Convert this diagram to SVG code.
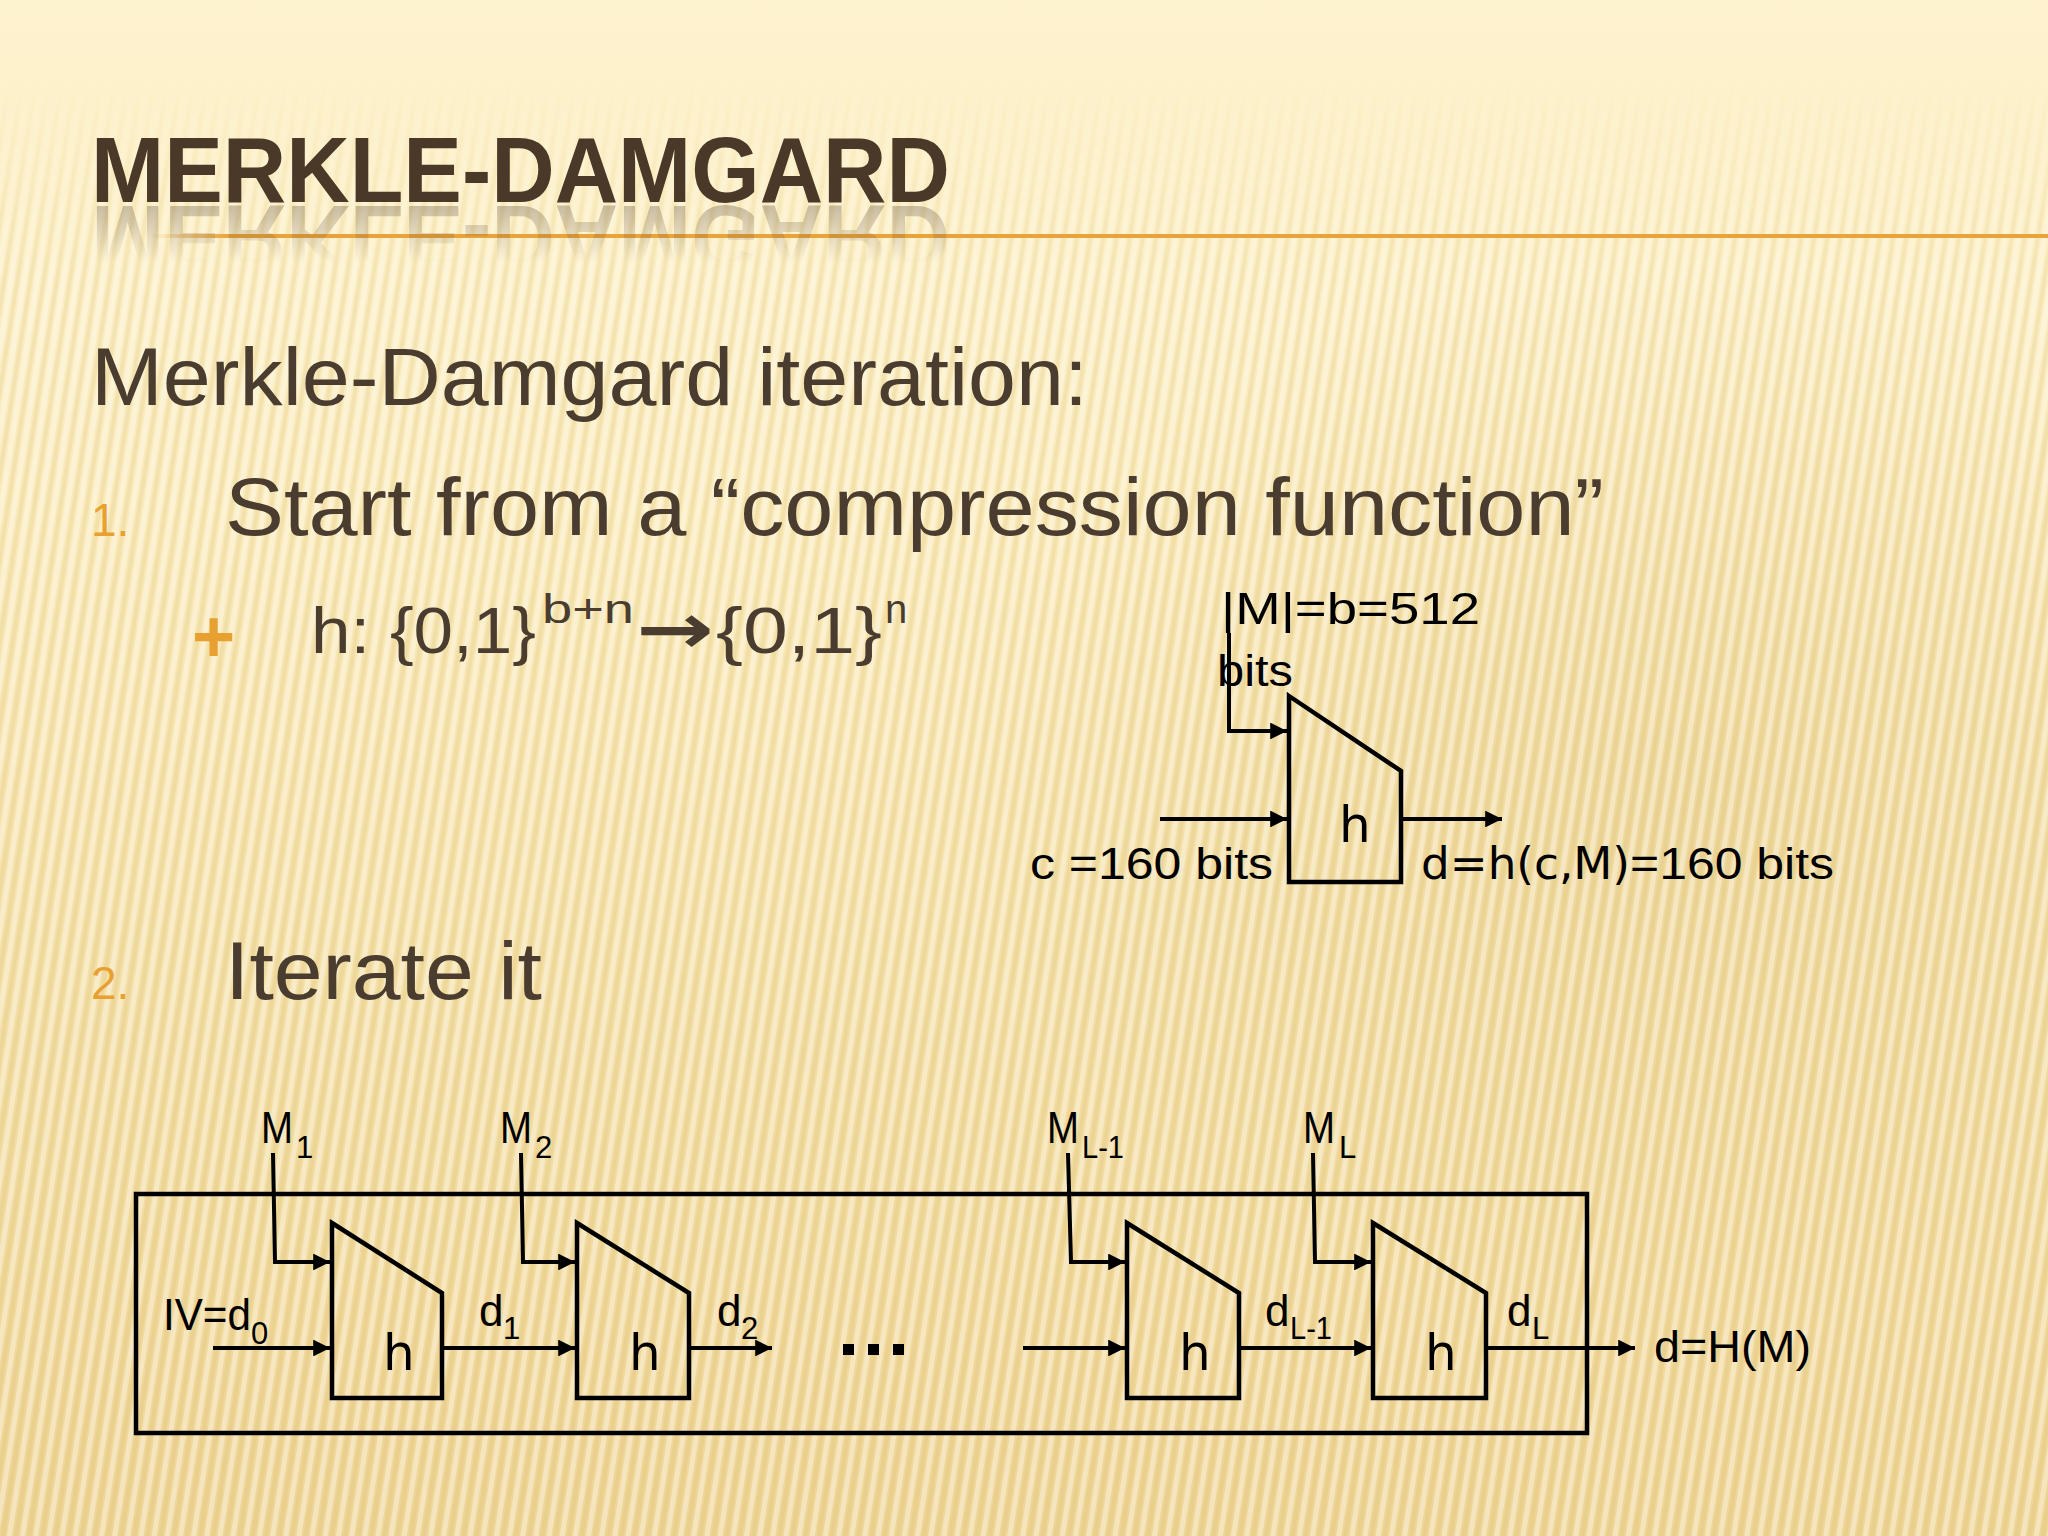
<svg xmlns="http://www.w3.org/2000/svg" xmlns:xlink="http://www.w3.org/1999/xlink" width="2048" height="1536" viewBox="0 0 2048 1536">
<defs>
  <linearGradient id="bg" x1="0" y1="0" x2="0" y2="1">
    <stop offset="0" stop-color="#FEF3CF"/>
    <stop offset="0.35" stop-color="#FAEAB9"/>
    <stop offset="0.7" stop-color="#F3DDA2"/>
    <stop offset="1" stop-color="#EFD595"/>
  </linearGradient>
  <radialGradient id="glow" cx="0.82" cy="0.52" r="0.35">
    <stop offset="0" stop-color="#E9CF8E" stop-opacity="0.6"/>
    <stop offset="1" stop-color="#E9CF8E" stop-opacity="0"/>
  </radialGradient>
  <pattern id="stripes" width="13" height="60" patternUnits="userSpaceOnUse" patternTransform="rotate(9)">
    <rect x="0" y="0" width="5" height="60" fill="#FFFFFF" opacity="0.38"/>
    <rect x="7" y="0" width="4" height="60" fill="#C9A85A" opacity="0.14"/>
  </pattern>
  <linearGradient id="fadeG" x1="0" y1="0" x2="0" y2="1">
    <stop offset="0" stop-color="#000"/>
    <stop offset="0.05" stop-color="#000"/>
    <stop offset="0.18" stop-color="#fff"/>
    <stop offset="1" stop-color="#fff"/>
  </linearGradient>
  <mask id="stripeMask" maskUnits="userSpaceOnUse" x="0" y="0" width="2048" height="1536">
    <rect width="2048" height="1536" fill="url(#fadeG)"/>
  </mask>
  <linearGradient id="reflG" gradientUnits="userSpaceOnUse" x1="0" y1="204" x2="0" y2="262">
    <stop offset="0" stop-color="#fff" stop-opacity="0.5"/>
    <stop offset="1" stop-color="#fff" stop-opacity="0"/>
  </linearGradient>
  <mask id="reflMask" maskUnits="userSpaceOnUse" x="0" y="200" width="2048" height="80">
    <rect x="0" y="200" width="2048" height="80" fill="url(#reflG)"/>
  </mask>
  <linearGradient id="ruleG" gradientUnits="userSpaceOnUse" x1="150" y1="0" x2="230" y2="0">
    <stop offset="0" stop-color="#E8A33A" stop-opacity="0"/>
    <stop offset="1" stop-color="#E8A33A" stop-opacity="1"/>
  </linearGradient>
  <marker id="arr" viewBox="0 0 10 10" refX="10" refY="5" markerWidth="4.6" markerHeight="4.2" orient="auto" markerUnits="strokeWidth">
    <path d="M0,0 L10,5 L0,10 Z" fill="#000"/>
  </marker>
  <style>
    .title { font-family: "Liberation Sans", Arial, sans-serif; font-weight: bold; font-size: 93px; fill: #4A3828; }
    .body { font-family: "Liberation Sans", Arial, sans-serif; font-size: 82px; fill: #4A3C2E; }
    .num { font-family: "Liberation Sans", Arial, sans-serif; font-size: 46px; fill: #E8A030; }
    .sub { font-family: "Liberation Sans", Arial, sans-serif; font-size: 64px; fill: #4A3C2E; }
    .lbl { font-family: "Liberation Sans", Arial, sans-serif; font-size: 44px; fill: #000; }
    .sl { font-family: "Liberation Sans", Arial, sans-serif; font-size: 31px; fill: #000; }
    .hh { font-family: "DejaVu Sans", sans-serif; font-size: 50px; fill: #000; }
    .box { fill: none; stroke: #000; stroke-width: 4.5; stroke-linejoin: miter; }
    .wire { fill: none; stroke: #000; stroke-width: 4; }
  </style>
</defs>

<rect width="2048" height="1536" fill="url(#bg)"/>
<rect width="2048" height="1536" fill="url(#glow)"/>
<rect width="2048" height="1536" fill="url(#stripes)" mask="url(#stripeMask)"/>

<!-- Title -->
<g id="title">
  <line x1="150" y1="236" x2="2048" y2="236" stroke="url(#ruleG)" stroke-width="4"/>
  <g mask="url(#reflMask)">
    <use xlink:href="#titleText" href="#titleText" transform="translate(0,408) scale(1,-1)" opacity="0.6"/>
  </g>
  <text id="titleText" class="title" x="91" y="202" textLength="859" lengthAdjust="spacingAndGlyphs">MERKLE-DAMGARD</text>
</g>

<!-- Body text -->
<g id="bullets">
  <text class="body" x="91" y="405" textLength="997" lengthAdjust="spacingAndGlyphs">Merkle-Damgard iteration:</text>
  <text class="num" x="91" y="536">1.</text>
  <text class="body" x="225" y="535" textLength="1379" lengthAdjust="spacingAndGlyphs">Start from a “compression function”</text>
  <text x="192" y="662" font-family="Liberation Sans, Arial, sans-serif" font-size="74" font-weight="bold" fill="#E8A030">+</text>
  <text class="sub" y="653"><tspan x="311" textLength="225" lengthAdjust="spacingAndGlyphs">h: {0,1}</tspan><tspan x="542" y="623" font-size="40" textLength="92" lengthAdjust="spacingAndGlyphs">b+n</tspan><tspan x="636" y="653" font-family="DejaVu Sans, sans-serif" font-weight="bold" font-size="70" textLength="78" lengthAdjust="spacingAndGlyphs">→</tspan><tspan x="716" textLength="166" lengthAdjust="spacingAndGlyphs">{0,1}</tspan><tspan x="885" y="623" font-size="40">n</tspan></text>
  <text class="num" x="91" y="999">2.</text>
  <text class="body" x="225" y="999" textLength="317" lengthAdjust="spacingAndGlyphs">Iterate it</text>
</g>

<!-- Single compression function -->
<g id="h-single">
  <path class="box" d="M1289,696 L1401,771 L1401,882 L1289,882 Z"/>
  <text class="hh" x="1339" y="842">h</text>
</g>
<g id="h-single-labels">
  <text class="lbl" x="1221" y="624" textLength="259" lengthAdjust="spacingAndGlyphs">|M|=b=512</text>
  <text class="lbl" x="1217" y="686" textLength="76" lengthAdjust="spacingAndGlyphs">bits</text>
  <text class="lbl" x="1030" y="879" textLength="243" lengthAdjust="spacingAndGlyphs">c =160 bits</text>
  <text class="lbl" x="1421" y="879"><tspan font-family="DejaVu Sans, sans-serif" textLength="209" lengthAdjust="spacingAndGlyphs">d=h(c,M)</tspan><tspan textLength="204" lengthAdjust="spacingAndGlyphs">=160 bits</tspan></text>
</g>

<!-- Iterated construction -->
<g id="outer-box">
  <rect class="box" x="136" y="1194" width="1451" height="239"/>
</g>
<g id="h1">
  <path class="box" d="M332,1223 L442,1293 L442,1398 L332,1398 Z"/>
  <text class="hh" x="383" y="1370">h</text>
</g>
<g id="h2">
  <path class="box" d="M577,1223 L689,1293 L689,1398 L577,1398 Z"/>
  <text class="hh" x="629" y="1370">h</text>
</g>
<g id="h3">
  <path class="box" d="M1127,1223 L1239,1293 L1239,1398 L1127,1398 Z"/>
  <text class="hh" x="1179" y="1370">h</text>
</g>
<g id="h4">
  <path class="box" d="M1373,1223 L1486,1293 L1486,1398 L1373,1398 Z"/>
  <text class="hh" x="1425" y="1370">h</text>
</g>
<g id="dots">
  <rect x="843" y="1344" width="11" height="11" fill="#000"/>
  <rect x="868" y="1344" width="11" height="11" fill="#000"/>
  <rect x="893" y="1344" width="11" height="11" fill="#000"/>
</g>

<g id="connectors">
  <!-- single -->
  <path class="wire" d="M1229,633 L1229,731 L1287,731" marker-end="url(#arr)"/>
  <path class="wire" d="M1160,819 L1287,819" marker-end="url(#arr)"/>
  <path class="wire" d="M1401,819 L1502,819" marker-end="url(#arr)"/>
  <!-- iterated -->
  <path class="wire" d="M273,1153 L275,1262 L330,1262" marker-end="url(#arr)"/>
  <path class="wire" d="M213,1348 L330,1348" marker-end="url(#arr)"/>
  <path class="wire" d="M442,1348 L575,1348" marker-end="url(#arr)"/>
  <path class="wire" d="M521,1153 L523,1262 L575,1262" marker-end="url(#arr)"/>
  <path class="wire" d="M689,1348 L772,1348" marker-end="url(#arr)"/>
  <path class="wire" d="M1023,1348 L1125,1348" marker-end="url(#arr)"/>
  <path class="wire" d="M1068,1153 L1071,1262 L1125,1262" marker-end="url(#arr)"/>
  <path class="wire" d="M1239,1348 L1371,1348" marker-end="url(#arr)"/>
  <path class="wire" d="M1313,1153 L1315,1262 L1371,1262" marker-end="url(#arr)"/>
  <path class="wire" d="M1486,1348 L1635,1348" marker-end="url(#arr)"/>
</g>

<g id="iter-labels">
  <text class="lbl" x="261" y="1143" textLength="32" lengthAdjust="spacingAndGlyphs">M</text>
  <text class="sl" x="296" y="1158">1</text>
  <text class="lbl" x="500" y="1143" textLength="32" lengthAdjust="spacingAndGlyphs">M</text>
  <text class="sl" x="535" y="1158">2</text>
  <text class="lbl" x="1047" y="1143" textLength="32" lengthAdjust="spacingAndGlyphs">M</text>
  <text class="sl" x="1082" y="1158" textLength="42" lengthAdjust="spacingAndGlyphs">L-1</text>
  <text class="lbl" x="1303" y="1143" textLength="32" lengthAdjust="spacingAndGlyphs">M</text>
  <text class="sl" x="1339" y="1158">L</text>
  <text class="lbl" x="163" y="1330" textLength="88" lengthAdjust="spacingAndGlyphs">IV=d</text>
  <text class="sl" x="251" y="1344">0</text>
  <text class="lbl" x="479" y="1326">d</text>
  <text class="sl" x="503" y="1339">1</text>
  <text class="lbl" x="717" y="1326">d</text>
  <text class="sl" x="741" y="1339">2</text>
  <text class="lbl" x="1265" y="1326">d</text>
  <text class="sl" x="1290" y="1339" textLength="42" lengthAdjust="spacingAndGlyphs">L-1</text>
  <text class="lbl" x="1507" y="1326">d</text>
  <text class="sl" x="1532" y="1339">L</text>
  <text class="lbl" x="1654" y="1362" textLength="157" lengthAdjust="spacingAndGlyphs">d=H(M)</text>
</g>
</svg>
